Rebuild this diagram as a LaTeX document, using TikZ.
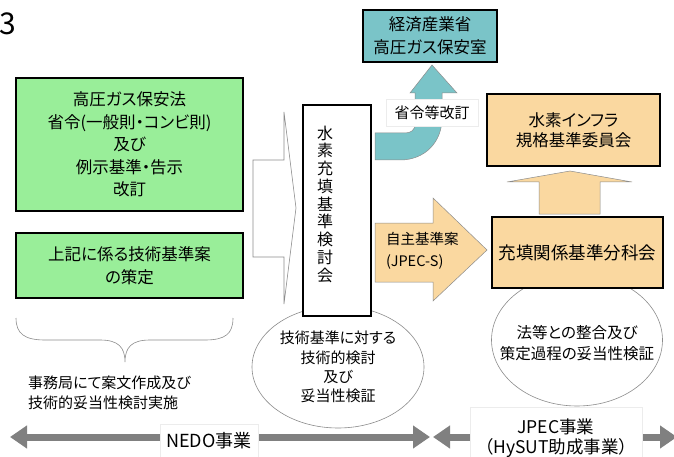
\documentclass[tikz,border=0pt]{standalone}
\usepackage{fontspec}
\setmainfont[RawFeature=+palt]{Noto Sans CJK JP}
\usetikzlibrary{shapes.geometric,arrows.meta}
\definecolor{boxgreen}{RGB}{153,238,153}
\definecolor{tealfill}{RGB}{122,196,200}
\definecolor{orangefill}{RGB}{250,216,160}
\definecolor{bargray}{RGB}{128,128,128}
\definecolor{outlinegray}{RGB}{140,140,140}
\newcommand\fsz[2]{\fontsize{#1}{#2}\selectfont}
\tikzset{
  mainbox/.style={draw=black, line width=2pt, align=center, inner sep=0pt},
  greenbox/.style={mainbox, fill=boxgreen, font=\fsz{16.5}{22.5}},
  orangebox/.style={mainbox, fill=orangefill},
  plaintext/.style={inner sep=0pt, align=center},
  ovalnote/.style={ellipse, draw=outlinegray, line width=0.6pt, fill=white, inner sep=0pt, align=center},
  openarrow/.style={draw=outlinegray, line width=0.6pt, fill=white},
  tealarrow/.style={draw=outlinegray, line width=0.5pt, fill=tealfill},
  orangearrow/.style={draw=outlinegray, line width=0.5pt, fill=orangefill},
  bracestyle/.style={draw=outlinegray, line width=0.6pt},
  labelbox/.style={fill=white, draw=gray!15, line width=0.5pt, inner sep=0pt, align=center},
  bar/.style={draw=bargray, line width=7pt,
    {Triangle[length=17pt,width=22pt]}-{Triangle[length=17pt,width=22pt]}},
}
\begin{document}
\begin{tikzpicture}[x=1pt,y=-1pt]
\path[use as bounding box] (0,0) rectangle (674,457);
\clip (0,0) rectangle (674,457);
\fill[white] (0,0) rectangle (674,457);

% figure number
\node[anchor=west, font=\fsz{30}{30}, inner sep=0pt] (fignum) at (-1,24) {3};

% green boxes
\node[greenbox, minimum width=227, minimum height=133] (law) at (129.5,144.5)
  {高圧ガス保安法\\省令(一般則・コンビ則)\\及び\\例示基準・告示\\改訂};
\node[greenbox, minimum width=227, minimum height=65] (draft) at (129.5,265.5)
  {上記に係る技術基準案\\の策定};

% brace
\draw[bracestyle] (16,318) .. controls (16,334) and (25,340) .. (45,340) -- (100,340)
  .. controls (118,340) and (125,347) .. (125,362)
  .. controls (125,347) and (132,340) .. (150,340) -- (205,340)
  .. controls (225,340) and (233,334) .. (233,318);
\node[plaintext, anchor=west, align=left, font=\fsz{15}{20}] (secr) at (28,393)
  {事務局にて案文作成及び\\技術的妥当性検討実施};

% open arrow
\draw[openarrow] (253,160) -- (284,160) -- (284,112) -- (296,208) -- (284,304)
  -- (284,257) -- (253,257) -- cycle;

% ellipse 1 and central box
\node[ovalnote, minimum width=172, minimum height=122, font=\fsz{15}{19.3}] (review) at (338,367)
  {技術基準に対する\\技術的検討\\及び\\妥当性検証};
\node[mainbox, fill=white, minimum width=68, minimum height=211] (council) at (337,210.5) {};
\node[plaintext, font=\fsz{16}{17.75}] (counciltext) at (325,204)
  {水\\素\\充\\填\\基\\準\\検\\討\\会};

% METI box and curved arrow
\node[mainbox, fill=tealfill, minimum width=134, minimum height=52, font=\fsz{16.5}{23}] (meti) at (430,36)
  {経済産業省\\高圧ガス保安室};
\draw[tealarrow] (375,160) -- (400,160) .. controls (425,160) and (442,142) .. (442,118)
  -- (442,93) -- (457,93) -- (432,65) -- (410,93) -- (415,93) -- (415,124)
  .. controls (415,130) and (411,133) .. (405,133) -- (375,133) -- cycle;
\node[labelbox, minimum width=92, minimum height=27, font=\fsz{15}{15}] (revlabel) at (432,113) {省令等改訂};

% orange right arrow
\draw[orangearrow] (375,223) -- (433,223) -- (433,198) -- (487,250) -- (433,301)
  -- (433,282) -- (375,282) -- cycle;
\node[plaintext, anchor=west, align=left, font=\fsz{14.5}{22}] (jpecs) at (386,251)
  {自主基準案\\(JPEC-S)};

% orange boxes
\node[orangebox, minimum width=173, minimum height=72, font=\fsz{16.5}{20.5}] (h2infra) at (573.5,130)
  {水素インフラ\\規格基準委員会};
\draw[orangearrow] (539,214) -- (539,182) -- (507,182) -- (570,171) -- (632,182)
  -- (600,182) -- (600,214) -- cycle;
\node[ovalnote, minimum width=171, minimum height=132] (consist) at (577,340) {};
\node[plaintext, font=\fsz{15.5}{20.5}] (consisttext) at (577,343)
  {法等との整合及び\\策定過程の妥当性検証};
\node[orangebox, minimum width=171, minimum height=71, font=\fsz{17.5}{17.5}] (filling) at (577.5,252.5)
  {充填関係基準分科会};

% bottom arrows
\coordinate (nedoL) at (10,437);
\coordinate (nedoR) at (430,437);
\coordinate (jpecL) at (433,437);
\coordinate (jpecR) at (677,437);
\draw[bar] (nedoL) -- (nedoR);
\draw[bar] (jpecL) -- (jpecR);
\node[labelbox, minimum width=98, minimum height=33, font=\fsz{18}{18}] (nedo) at (209,441) {NEDO事業};
\node[labelbox, minimum width=172, minimum height=62, font=\fsz{17.5}{20}] (jpec) at (556,438)
  {JPEC事業\\（HySUT助成事業）};
\end{tikzpicture}
\end{document}
